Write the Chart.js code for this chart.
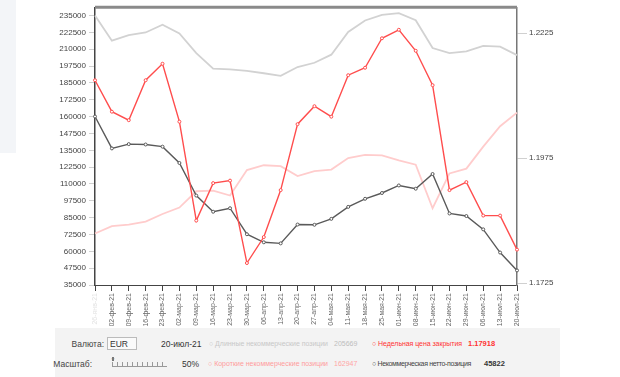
<!DOCTYPE html>
<html>
<head>
<meta charset="utf-8">
<script src="https://cdn.jsdelivr.net/npm/chart.js@4"></script>
<style>
  body { margin: 0; width: 620px; height: 377px; background: #fff; position: relative; overflow: hidden; font-family: Arial, "Liberation Sans", sans-serif; }
  #sidebar { position: absolute; left: 0; top: 0; width: 16px; height: 153px; background: #f3f5f8; }
  #wrap { position: absolute; left: 0; top: 0; width: 620px; height: 326px; }
  #panel { position: absolute; left: 55px; top: 328px; width: 505px; height: 49px; background: #f3f3f3; }
  .t { position: absolute; font-size: 7px; line-height: 10px; white-space: nowrap; }
  .b { font-weight: bold; font-size: 7.5px; }
</style>
</head>
<body>
<div id="sidebar"></div>
<div id="wrap"><canvas id="chart" width="620" height="326"></canvas></div>
<div id="panel"></div>
<div class="t" style="left:60px;top:339px;width:44px;text-align:right;font-size:8.5px;color:#444">Валюта:</div>
<div style="position:absolute;left:107px;top:337px;width:30px;height:13px;border:1px solid #bbb;background:#fafafa;font-size:8.5px;line-height:13px;color:#333;padding-left:2px;box-sizing:border-box">EUR <span style="color:#888;font-size:7px">&#8964;</span></div>
<div class="t" id="curDate" style="left:161px;top:339px;font-size:8.5px;color:#333"></div>
<div class="t" id="lLong" style="left:209px;top:339px;color:#c8c8c8">○ Длинные некоммерческие позиции</div>
<div class="t" id="vLong" style="left:334px;top:339px;color:#bdbdbd"></div>
<div class="t" id="lClose" style="left:372px;top:339px;color:#ff3333">○ Недельная цена закрытия</div>
<div class="t b" id="vClose" style="left:468px;top:338.5px;color:#ff3333"></div>
<div class="t" style="left:50px;top:359px;width:42px;text-align:right;font-size:8.5px;color:#444">Масштаб:</div>
<div style="position:absolute;left:112px;top:362px;width:55px;height:4px;border-bottom:1px solid #999;background:repeating-linear-gradient(90deg,#999 0,#999 1px,transparent 1px,transparent 5px)"></div>
<div style="position:absolute;left:112px;top:357px;width:2px;height:4px;background:#777"></div>
<div class="t" style="left:182px;top:359px;font-size:8.5px;color:#333">50%</div>
<div class="t" id="lShort" style="left:208px;top:359px;color:#ff9c9c">○ Короткие некоммерческие позиции</div>
<div class="t" id="vShort" style="left:334px;top:359px;color:#ffa5a5"></div>
<div class="t" id="lNet" style="left:372px;top:359px;color:#444">○ Некоммерческая нетто-позиция</div>
<div class="t b" id="vNet" style="left:484px;top:358.5px;color:#333"></div>

<script>
// weekly dates (first one is not labelled on the original)
const dates = ["26-янв-21", "02-фев-21", "09-фев-21", "16-фев-21", "23-фев-21", "02-мар-21", "09-мар-21",
  "16-мар-21", "23-мар-21", "30-мар-21", "06-апр-21", "13-апр-21", "20-апр-21", "27-апр-21", "04-мая-21",
  "11-мая-21", "18-мая-21", "25-мая-21", "01-июн-21", "08-июн-21", "15-июн-21", "22-июн-21", "29-июн-21",
  "06-июл-21", "13-июл-21", "20-июл-21"];

const longPos = [235000, 216400, 220500, 222500, 228200, 221700, 207200, 195700, 195100, 193900, 192200, 190300,
  196800, 200000, 206000, 222900, 231400, 235500, 236900, 231600, 210900, 207200, 208400, 212500, 212000, 205669];

const shortPos = [73200, 78700, 79900, 82100, 87700, 92500, 104600, 105100, 101400, 120300, 123900, 123200,
  115900, 119600, 120700, 129200, 131600, 131200, 127500, 124300, 92000, 117800, 121400, 137700, 152900, 162947];

const netPos = [160100, 136400, 139600, 139300, 137700, 125600, 101400, 89400, 92000, 72700, 66700, 65900,
  79900, 79700, 84100, 93000, 99000, 103300, 108900, 106500, 117400, 88100, 86200, 76300, 59100, 45822];

const closePrice = [1.2131, 1.2068, 1.2051, 1.2131, 1.2164, 1.2048, 1.1850, 1.1925, 1.1930, 1.1765, 1.1817, 1.1911,
  1.2043, 1.2079, 1.2058, 1.2141, 1.2156, 1.2215, 1.2232, 1.2190, 1.2121, 1.1911, 1.1927, 1.1860, 1.1860, 1.17918];

const leftTicks = [35000, 47500, 60000, 72500, 85000, 97500, 110000, 122500, 135000, 147500, 160000, 172500,
  185000, 197500, 210000, 222500, 235000];
const rightTicks = [1.1725, 1.1975, 1.2225];

// legend values = last week
const last = dates.length - 1;
document.getElementById('curDate').textContent = dates[last];
document.getElementById('vLong').textContent = longPos[last];
document.getElementById('vShort').textContent = shortPos[last];
document.getElementById('vNet').textContent = netPos[last];
document.getElementById('vClose').textContent = closePrice[last];

// stretch legend captions to the width they take on the original
function fitWidth(id, target) {
  const el = document.getElementById(id);
  const w = el.getBoundingClientRect().width;
  el.style.letterSpacing = ((target - w) / el.textContent.length) + 'px';
}
fitWidth('lLong', 119);
fitWidth('lShort', 120);
fitWidth('lClose', 90);
fitWidth('lNet', 99);

const topBorder = {
  id: 'topBorder',
  afterDraw(chart) {
    const a = chart.chartArea, c = chart.ctx;
    c.save();
    c.strokeStyle = '#8a8a8a';
    c.lineWidth = 3;
    c.beginPath();
    c.moveTo(a.left, a.top - 0.5);
    c.lineTo(a.right, a.top - 0.5);
    c.stroke();
    c.restore();
  }
};

new Chart(document.getElementById('chart'), {
  type: 'line',
  data: {
    labels: dates,
    datasets: [
      { data: closePrice, yAxisID: 'y1', order: 0, borderColor: '#ff4d4d', borderWidth: 1.4,
        pointRadius: 1.5, pointBorderWidth: 1, pointBackgroundColor: '#fff', pointBorderColor: '#ff4d4d', tension: 0 },
      { data: netPos, yAxisID: 'y', order: 1, borderColor: '#5a5a5a', borderWidth: 1.4,
        pointRadius: 1.5, pointBorderWidth: 1, pointBackgroundColor: '#fff', pointBorderColor: '#5a5a5a', tension: 0 },
      { data: shortPos, yAxisID: 'y', order: 2, borderColor: '#ffcccc', borderWidth: 1.8, pointRadius: 0, tension: 0 },
      { data: longPos, yAxisID: 'y', order: 3, borderColor: '#d2d2d2', borderWidth: 1.8, pointRadius: 0, tension: 0 }
    ]
  },
  options: {
    responsive: false,
    animation: false,
    devicePixelRatio: 1,
    layout: { padding: { top: 2 } },
    plugins: { legend: { display: false }, tooltip: { enabled: false } },
    scales: {
      x: {
        offset: false,
        grid: { drawOnChartArea: false, tickLength: 6, color: '#444' },
        border: { color: '#444', width: 1 },
        ticks: {
          autoSkip: false, maxRotation: 90, minRotation: 90, padding: 2,
          font: { size: 7, family: 'Arial' },
          color: (ctx) => ctx.index === 0 ? '#e2e2e2' : '#666'
        },
        afterFit: (s) => { s.height = 41; }
      },
      y: {
        position: 'left',
        min: 35000, max: 240800,
        grid: { drawOnChartArea: false, tickLength: 6, color: '#d0d0d0' },
        border: { color: '#444', width: 1.5 },
        ticks: { padding: 3, font: { size: 8, family: 'Arial' }, color: '#444',
          callback: (v) => String(v) },
        afterBuildTicks: (s) => { s.ticks = leftTicks.map(v => ({ value: v })); },
        afterFit: (s) => { s.width = 95; }
      },
      y1: {
        position: 'right',
        min: 1.1721, max: 1.2276,
        grid: { drawOnChartArea: false, tickLength: 10, color: '#d0d0d0' },
        border: { color: '#777', width: 1.5 },
        ticks: { padding: 2, font: { size: 8, family: 'Arial' }, color: '#444',
          callback: (v) => v.toFixed(4) },
        afterBuildTicks: (s) => { s.ticks = rightTicks.map(v => ({ value: v })); },
        afterFit: (s) => { s.width = 103; }
      }
    }
  },
  plugins: [topBorder]
});
</script>
</body>
</html>
